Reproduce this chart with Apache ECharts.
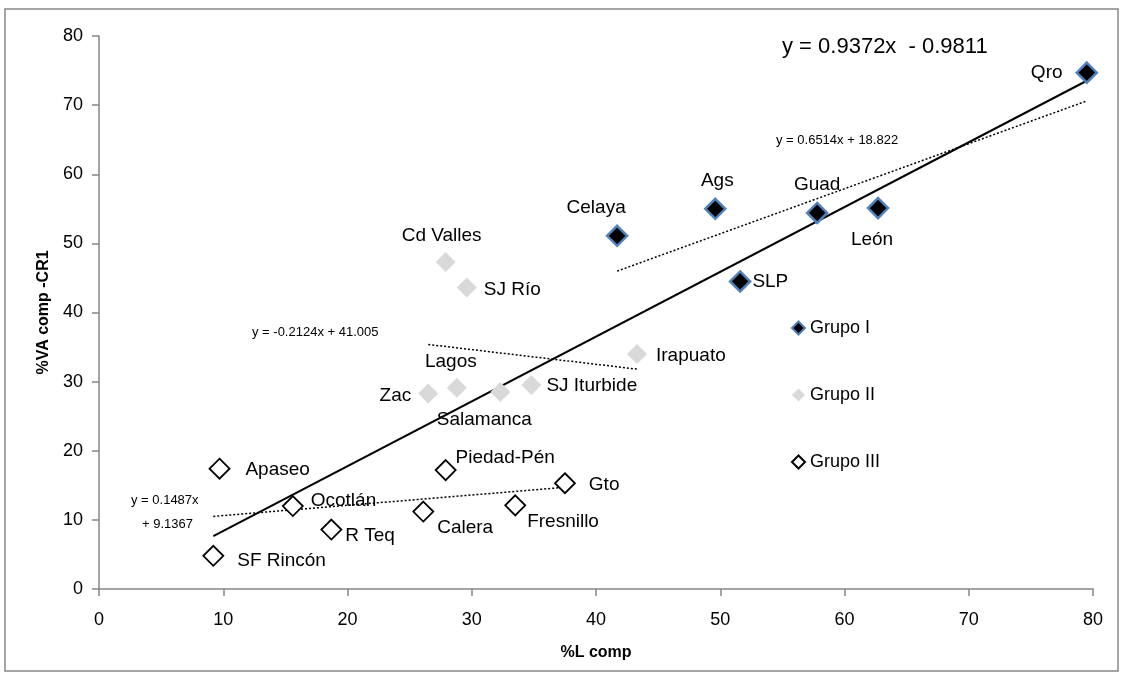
<!DOCTYPE html>
<html><head><meta charset="utf-8">
<script src="https://cdn.jsdelivr.net/npm/echarts@6/dist/echarts.min.js"></script>
<style>html,body{margin:0;padding:0;background:#fff}#c{width:1125px;height:679px}</style>
</head><body><div id="c"></div>
<script>
// ---- data ----
const g1Names = ['Qro','Guad','León','Ags','Celaya','SLP'];
const g1X = [79.5, 57.8, 62.7, 49.6, 41.7, 51.6];
const g1Y = [74.7, 54.4, 55.1, 55.0, 51.1, 44.5];

const g2Names = ['Cd Valles','SJ Río','Irapuato','Zac','Lagos','Salamanca','SJ Iturbide'];
const g2X = [27.9, 29.6, 43.3, 26.5, 28.8, 32.3, 34.8];
const g2Y = [47.3, 43.6, 34.0, 28.3, 29.1, 28.5, 29.5];

const g3Names = ['Apaseo','Ocotlán','R Teq','SF Rincón','Calera','Piedad-Pén','Fresnillo','Gto'];
const g3X = [9.7, 15.6, 18.7, 9.2, 26.1, 27.9, 33.5, 37.5];
const g3Y = [17.4, 12.0, 8.6, 4.8, 11.2, 17.2, 12.1, 15.3];

const seriesNames = ['Grupo I','Grupo II','Grupo III'];
// trend equations [slope, intercept] as printed on the chart
const trendAll = [0.9372, -0.9811];
const trendG1 = [0.6514, 18.822];
const trendG2 = [-0.2124, 41.005];
const trendG3 = [0.1487, 9.1367];
const eqTexts = ['y = 0.9372x  - 0.9811','y = 0.6514x + 18.822','y = -0.2124x + 41.005','y = 0.1487x','+ 9.1367'];

// ---- label placement (style) ----
const labelCfg = {
  'Qro':{position:'left',offset:[-8,0]},
  'Guad':{position:'top',offset:[0,-2]},
  'León':{position:'bottom',offset:[-6,6]},
  'Ags':{position:'top',offset:[2,-2]},
  'Celaya':{position:'top',offset:[-21,-2]},
  'SLP':{position:'right',offset:[-4,0]},
  'Cd Valles':{position:'top',offset:[-4,-2]},
  'SJ Río':{position:'right',offset:[2,2]},
  'Irapuato':{position:'right',offset:[4,2]},
  'Zac':{position:'left',offset:[-2,2]},
  'Lagos':{position:'top',offset:[-6,-2]},
  'Salamanca':{position:'bottom',offset:[-16,3]},
  'SJ Iturbide':{position:'right',offset:[0,1]},
  'Apaseo':{position:'right',offset:[10,1]},
  'Ocotlán':{position:'right',offset:[2,-5]},
  'R Teq':{position:'right',offset:[-2,6]},
  'SF Rincón':{position:'right',offset:[8,5]},
  'Calera':{position:'right',offset:[-2,16]},
  'Piedad-Pén':{position:'right',offset:[-6,-12]},
  'Fresnillo':{position:'right',offset:[-4,16]},
  'Gto':{position:'right',offset:[8,2]}
};

const FONT = 'Liberation Sans';
function pts(names, xs, ys){
  return names.map((n,i)=>({name:n, value:[xs[i], ys[i]],
    label:Object.assign({show:true, formatter:n, color:'#000', fontFamily:FONT, fontSize:19}, labelCfg[n])}));
}
function trendLine(coef, xs){
  const lo = Math.min(...xs), hi = Math.max(...xs);
  return [[lo, coef[0]*lo+coef[1]],[hi, coef[0]*hi+coef[1]]];
}
const allX = g1X.concat(g2X, g3X);

const chart = echarts.init(document.getElementById('c'), null, {renderer:'canvas'});
const labelStyle = {fontFamily:FONT, fontSize:19, color:'#000'};
const symSize = 20;

chart.setOption({
  animation:false,
  backgroundColor:'#fff',
  textStyle:{fontFamily:FONT, color:'#000'},
  grid:{left:99, right:32, top:36, bottom:90, containLabel:false},
  xAxis:{type:'value', min:0, max:80, interval:10,
    name:'%L comp', nameLocation:'middle', nameGap:56,
    nameTextStyle:{fontFamily:FONT, fontSize:16, fontWeight:'bold', color:'#000'},
    axisLine:{show:true, lineStyle:{color:'#868686', width:1.5}},
    axisTick:{show:true, inside:false, length:7, lineStyle:{color:'#868686', width:1.5}},
    axisLabel:{fontFamily:FONT, fontSize:18, color:'#000', margin:22},
    splitLine:{show:false}},
  yAxis:{type:'value', min:0, max:80, interval:10,
    name:'%VA comp -CR1', nameLocation:'middle', nameGap:32, nameRotate:90,
    nameTextStyle:{fontFamily:FONT, fontSize:16, fontWeight:'bold', color:'#000'},
    axisLine:{show:true, lineStyle:{color:'#868686', width:1.5}},
    axisTick:{show:true, inside:false, length:7, lineStyle:{color:'#868686', width:1.5}},
    axisLabel:{fontFamily:FONT, fontSize:18, color:'#000', margin:16},
    splitLine:{show:false}},
  legend:{orient:'vertical', left:786, top:314, itemGap:49, itemWidth:13, itemHeight:13,
    data:seriesNames, textStyle:{fontFamily:FONT, fontSize:18, color:'#000'}},
  series:[
    {name:'trendAll', type:'line', data:trendLine(trendAll, allX), symbol:'none', silent:true,
      lineStyle:{color:'#000', width:2, type:'solid'}, z:1},
    {name:'trendG1', type:'line', data:trendLine(trendG1, g1X), symbol:'none', silent:true,
      lineStyle:{color:'#000', width:1.5, type:[2,2]}, z:1},
    {name:'trendG2', type:'line', data:trendLine(trendG2, g2X), symbol:'none', silent:true,
      lineStyle:{color:'#000', width:1.5, type:[2,2]}, z:1},
    {name:'trendG3', type:'line', data:trendLine(trendG3, g3X), symbol:'none', silent:true,
      lineStyle:{color:'#000', width:1.5, type:[2,2]}, z:1},
    {name:seriesNames[0], type:'scatter', symbol:'diamond', symbolSize:symSize, z:3,
      itemStyle:{color:'#000', borderColor:'#4f81bd', borderWidth:2.5, opacity:1},
      label:labelStyle, data:pts(g1Names, g1X, g1Y)},
    {name:seriesNames[1], type:'scatter', symbol:'diamond', symbolSize:symSize, z:3,
      itemStyle:{color:'#d9d9d9', borderColor:'#d9d9d9', borderWidth:0, opacity:1},
      label:labelStyle, data:pts(g2Names, g2X, g2Y)},
    {name:seriesNames[2], type:'scatter', symbol:'diamond', symbolSize:symSize, z:3,
      itemStyle:{color:'#fff', borderColor:'#000', borderWidth:1.8, opacity:1},
      label:labelStyle, data:pts(g3Names, g3X, g3Y)}
  ],
  graphic:[
    {type:'rect', shape:{x:5, y:9, width:1113, height:662}, style:{fill:null, stroke:'#868686', lineWidth:1.5}, silent:true, z:-1},
    {type:'text', left:782, top:36, style:{text:eqTexts[0], font:'22px "Liberation Sans"', fill:'#000'}},
    {type:'text', left:776, top:134, style:{text:eqTexts[1], font:'13px "Liberation Sans"', fill:'#000'}},
    {type:'text', left:252, top:326, style:{text:eqTexts[2], font:'13px "Liberation Sans"', fill:'#000'}},
    {type:'text', left:131, top:494, style:{text:eqTexts[3], font:'13px "Liberation Sans"', fill:'#000'}},
    {type:'text', left:142, top:518, style:{text:eqTexts[4], font:'13px "Liberation Sans"', fill:'#000'}}
  ]
});
</script></body></html>
